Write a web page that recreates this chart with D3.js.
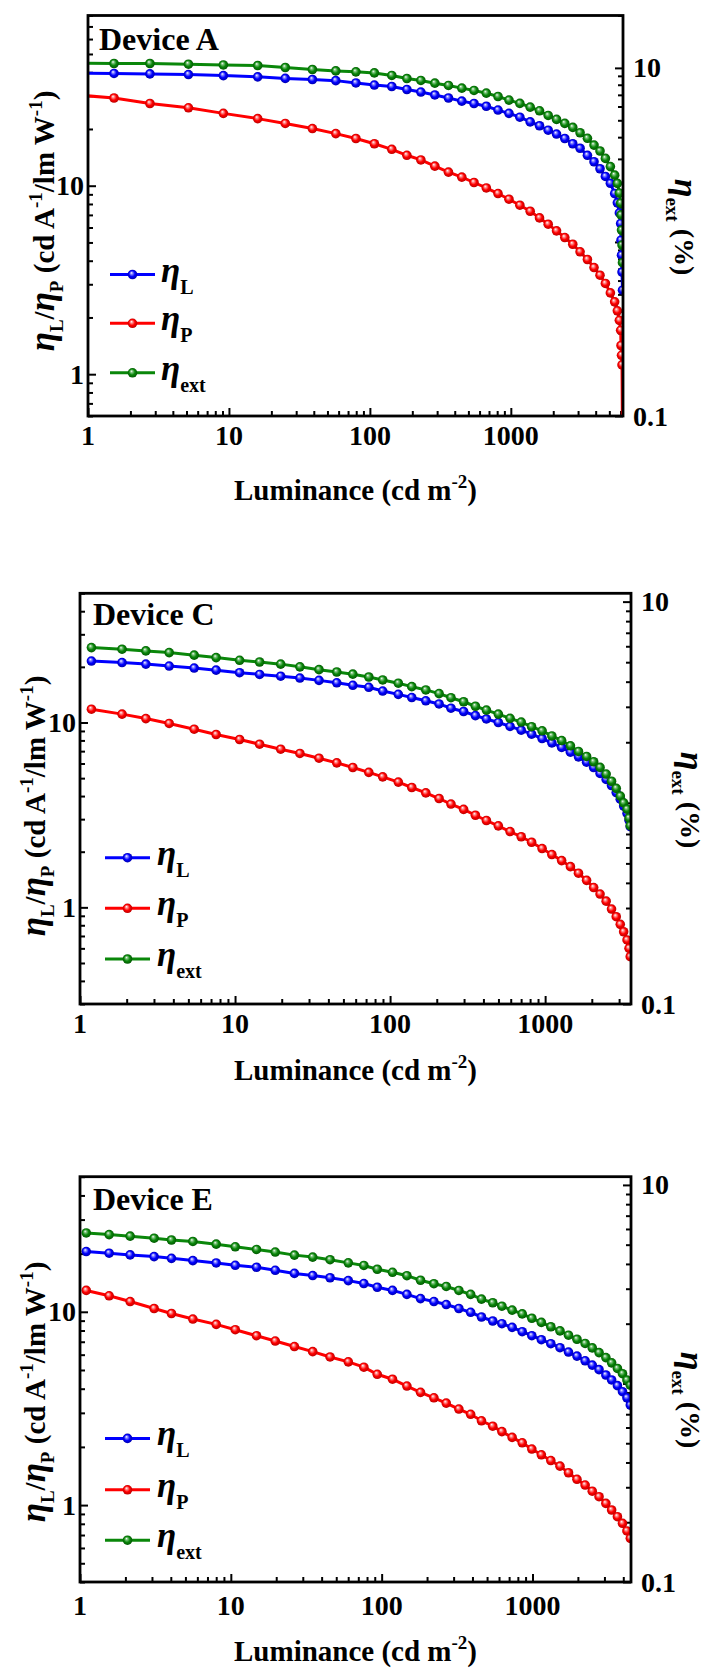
<!DOCTYPE html>
<html><head><meta charset="utf-8">
<script src="https://cdn.jsdelivr.net/npm/d3@7"></script>
<style>
html,body{margin:0;padding:0;background:#fff;}
svg text{font-family:"Liberation Serif","Times New Roman",serif;font-weight:bold;fill:#000;white-space:pre;}
</style></head><body>
<svg id="chart" width="718" height="1677"></svg>
<script>
// ---------------- data ----------------
const deviceLabels = ["Device A", "Device C", "Device E"];
const seriesNames = ["L", "P", "ext"];

const lumA = [0.75, 1.53, 2.75, 5.16, 9.13, 16.0, 25.1, 39.1, 57.3, 79.6, 107.6, 143, 183, 230, 289, 361, 449, 548, 670, 811, 970, 1159, 1372, 1598, 1841, 2110, 2415, 2751, 3100, 3495, 3893, 4293, 4688, 5085, 5454, 5700, 5890, 6015, 6050, 6100, 6150, 6200];
const etaL_A = [39.5, 39.4, 39.2, 38.9, 38.4, 37.8, 37.1, 36.6, 36.1, 35.1, 34.2, 33.6, 32.4, 31.4, 30.3, 29.2, 28.1, 27.3, 26.4, 25.2, 24.2, 23.1, 21.8, 20.8, 19.7, 18.8, 17.8, 16.7, 15.8, 14.5, 13.4, 12.3, 11.2, 10.3, 9.09, 8.11, 7.17, 6.30, 5.14, 4.28, 3.48, 2.79];
const etaP_A = [30.5, 29.2, 27.3, 25.9, 24.2, 22.7, 21.4, 20.1, 18.9, 17.8, 16.7, 15.6, 14.5, 13.7, 12.7, 11.8, 11.1, 10.4, 9.73, 9.09, 8.48, 7.88, 7.32, 6.75, 6.25, 5.76, 5.31, 4.89, 4.46, 4.06, 3.68, 3.35, 3.03, 2.70, 2.42, 2.17, 1.93, 1.71, 1.42, 1.26, 1.12, 0.45];
const etaExt_A = [10.65, 10.60, 10.60, 10.50, 10.40, 10.32, 10.05, 9.79, 9.61, 9.49, 9.36, 9.05, 8.69, 8.47, 8.17, 7.93, 7.65, 7.42, 7.16, 6.85, 6.53, 6.25, 5.95, 5.67, 5.33, 5.06, 4.80, 4.55, 4.24, 3.94, 3.60, 3.33, 3.02, 2.71, 2.42, 2.17, 1.91, 1.67, 1.43, 1.17, 0.96, 0.76];

const lumC = [1.185, 1.867, 2.66, 3.76, 5.45, 7.55, 10.7, 14.4, 19.7, 26.2, 34.8, 45.3, 57.5, 72.9, 89.6, 113, 138, 170, 207, 247, 298, 355, 418, 499, 594, 701, 818, 956, 1105, 1278, 1456, 1641, 1851, 2056, 2261, 2475, 2681, 2875, 3053, 3210, 3376, 3478, 3540];
const etaL_C = [21.5, 21.1, 20.7, 20.2, 19.7, 19.2, 18.6, 18.2, 17.8, 17.4, 16.9, 16.4, 15.9, 15.5, 14.8, 14.2, 13.65, 13.1, 12.6, 11.95, 11.47, 10.9, 10.45, 10.0, 9.52, 9.09, 8.65, 8.19, 7.76, 7.33, 6.91, 6.52, 6.10, 5.71, 5.30, 4.92, 4.56, 4.18, 3.85, 3.53, 3.22, 2.96, 2.73];
const etaP_C = [11.8, 11.1, 10.5, 9.88, 9.20, 8.61, 8.09, 7.63, 7.17, 6.80, 6.41, 6.05, 5.71, 5.37, 5.08, 4.76, 4.45, 4.16, 3.88, 3.62, 3.39, 3.15, 2.95, 2.76, 2.57, 2.41, 2.25, 2.08, 1.93, 1.79, 1.66, 1.53, 1.40, 1.28, 1.18, 1.08, 0.979, 0.890, 0.809, 0.738, 0.666, 0.600, 0.541];
const etaExt_C = [5.91, 5.80, 5.69, 5.58, 5.42, 5.27, 5.11, 5.01, 4.89, 4.74, 4.59, 4.47, 4.36, 4.22, 4.08, 3.93, 3.78, 3.64, 3.49, 3.33, 3.18, 3.02, 2.89, 2.76, 2.63, 2.52, 2.39, 2.28, 2.15, 2.04, 1.92, 1.80, 1.70, 1.60, 1.50, 1.39, 1.28, 1.18, 1.08, 1.00, 0.93, 0.84, 0.77];

const lumE = [1.10, 1.56, 2.15, 3.10, 4.04, 5.60, 8.0, 10.7, 14.8, 19.7, 26.4, 34.9, 45.5, 60.1, 76.2, 93.5, 118, 147, 181, 222, 268, 325, 389, 459, 545, 627, 733, 855, 990, 1145, 1323, 1522, 1733, 1972, 2234, 2491, 2763, 3066, 3348, 3658, 3953, 4228, 4453];
const etaL_E = [20.5, 20.1, 19.7, 19.3, 18.9, 18.4, 17.9, 17.4, 17.0, 16.4, 15.8, 15.4, 15.0, 14.5, 14.0, 13.4, 12.9, 12.3, 11.7, 11.3, 10.9, 10.4, 9.94, 9.40, 8.96, 8.68, 8.31, 7.89, 7.52, 7.17, 6.84, 6.52, 6.19, 5.90, 5.58, 5.30, 5.02, 4.71, 4.44, 4.15, 3.86, 3.59, 3.29];
const etaP_E = [12.9, 12.1, 11.3, 10.4, 9.80, 9.17, 8.61, 8.08, 7.52, 7.06, 6.61, 6.22, 5.84, 5.51, 5.17, 4.75, 4.48, 4.13, 3.83, 3.59, 3.37, 3.14, 2.95, 2.73, 2.56, 2.40, 2.24, 2.10, 1.95, 1.82, 1.70, 1.59, 1.47, 1.36, 1.27, 1.18, 1.105, 1.02, 0.943, 0.871, 0.805, 0.735, 0.673];
const etaExt_E = [5.73, 5.62, 5.52, 5.39, 5.28, 5.19, 5.03, 4.88, 4.73, 4.59, 4.43, 4.33, 4.20, 4.05, 3.93, 3.76, 3.63, 3.49, 3.31, 3.18, 3.08, 2.94, 2.81, 2.66, 2.55, 2.45, 2.34, 2.24, 2.13, 2.03, 1.93, 1.84, 1.75, 1.67, 1.59, 1.51, 1.43, 1.35, 1.27, 1.19, 1.12, 1.04, 0.98];

const xTickValues = [1, 10, 100, 1000];
const xTickLabels = ["1", "10", "100", "1000"];
const leftTickValues = [1, 10];
const leftTickLabels = ["1", "10"];
const rightTickValues = [0.1, 10];
const rightTickLabels = ["0.1", "10"];

// ---------------- layout ----------------
const panels = [
  {label: deviceLabels[0], lum: lumA, L: etaL_A, P: etaP_A, E: etaExt_A,
   left: 88, right: 623, top: 15.5, bottom: 416, xMax: 6250, yL: [0.6, 80], yR: [0.1, 20],
   devX: 99, devY: 50, legX0: 110, legX1: 155, legTX: 161, legY: [274.5, 323.3, 372.8],
   xLabY: 445, xTitleY: 500, lTitleX: 54, lTitleY: 221, rTitleX: 675, rTitleY: 227},
  {label: deviceLabels[1], lum: lumC, L: etaL_C, P: etaP_C, E: etaExt_C,
   left: 80, right: 631, top: 593.3, bottom: 1004, xMax: 3580, yL: [0.3, 50], yR: [0.1, 11],
   devX: 93, devY: 625, legX0: 105, legX1: 150, legTX: 157, legY: [857.7, 908.3, 959],
   xLabY: 1033, xTitleY: 1080, lTitleX: 45, lTitleY: 806, rTitleX: 681, rTitleY: 800},
  {label: deviceLabels[2], lum: lumE, L: etaL_E, P: etaP_E, E: etaExt_E,
   left: 80, right: 631, top: 1176.7, bottom: 1582, xMax: 4500, yL: [0.4, 50], yR: [0.1, 11],
   devX: 93, devY: 1210, legX0: 105, legX1: 150, legTX: 157, legY: [1438.4, 1489.8, 1540.2],
   xLabY: 1615, xTitleY: 1661, lTitleX: 45, lTitleY: 1392, rTitleX: 681, rTitleY: 1400}
];

const colors = {
  L: {line: "#0000ff", light: "#8a8aff", base: "#0000ff", dark: "#0000a0"},
  P: {line: "#ff0000", light: "#ff9090", base: "#ff0000", dark: "#b00000"},
  ext: {line: "#0a870a", light: "#7fc47f", base: "#0a870a", dark: "#005000"}
};

const svg = d3.select("#chart");
const defs = svg.append("defs");
Object.entries(colors).forEach(([k, c]) => {
  const g = defs.append("radialGradient").attr("id", "grad-" + k)
    .attr("cx", "50%").attr("cy", "50%").attr("r", "55%").attr("fx", "38%").attr("fy", "32%");
  g.append("stop").attr("offset", "0%").attr("stop-color", "#ffffff");
  g.append("stop").attr("offset", "22%").attr("stop-color", c.light);
  g.append("stop").attr("offset", "55%").attr("stop-color", c.base);
  g.append("stop").attr("offset", "100%").attr("stop-color", c.dark);
});

function isMajor(v) { const l = Math.log10(v); return Math.abs(l - Math.round(l)) < 1e-6; }

function richText(parent, x, y, segs, opts) {
  const t = parent.append("text").attr("x", x).attr("y", y)
    .attr("text-anchor", (opts && opts.anchor) || "start");
  if (opts && opts.transform) t.attr("transform", opts.transform);
  segs.forEach(s => {
    const ts = t.append("tspan").text(s.t).attr("font-size", s.size);
    if (s.it) ts.attr("font-style", "italic");
    if (s.dy) ts.attr("dy", s.dy);
  });
  return t;
}

panels.forEach((p, pi) => {
  const g = svg.append("g");
  const x = d3.scaleLog().domain([1, p.xMax]).range([p.left, p.right]);
  const yL = d3.scaleLog().domain(p.yL).range([p.bottom, p.top]);
  const yR = d3.scaleLog().domain(p.yR).range([p.bottom, p.top]);

  const clipId = "clip" + pi;
  defs.append("clipPath").attr("id", clipId).append("rect")
    .attr("x", p.left).attr("y", p.top).attr("width", p.right - p.left).attr("height", p.bottom - p.top);

  const styleAxis = (sel, horizontal, sign) => {
    sel.select(".domain").remove();
    sel.selectAll(".tick line").attr("stroke", "#000").attr("stroke-width", 2)
      .each(function(d) {
        const len = isMajor(d) ? 8 : 5;
        if (horizontal) d3.select(this).attr("y2", sign * len);
        else d3.select(this).attr("x2", sign * len);
      });
    sel.selectAll(".tick text").remove();
  };
  g.append("g").attr("transform", `translate(0,${p.bottom})`)
    .call(d3.axisBottom(x).tickValues(x.ticks()).tickSize(-5).tickFormat(""))
    .call(s => styleAxis(s, true, -1));
  g.append("g").attr("transform", `translate(${p.left},0)`)
    .call(d3.axisLeft(yL).tickValues(yL.ticks()).tickSize(-5).tickFormat(""))
    .call(s => styleAxis(s, false, 1));
  g.append("g").attr("transform", `translate(${p.right},0)`)
    .call(d3.axisRight(yR).tickValues(yR.ticks()).tickSize(-5).tickFormat(""))
    .call(s => styleAxis(s, false, -1));

  g.selectAll(".xl").data(xTickValues).enter().append("text")
    .attr("x", d => x(d)).attr("y", p.xLabY).attr("text-anchor", "middle")
    .attr("font-size", 28).text((d, i) => xTickLabels[i]);
  g.selectAll(".yl").data(leftTickValues).enter().append("text")
    .attr("x", p.left - 4).attr("y", d => yL(d) + 9.5).attr("text-anchor", "end")
    .attr("font-size", 28).text((d, i) => leftTickLabels[i]);
  g.selectAll(".yr").data(rightTickValues).enter().append("text")
    .attr("x", p.right + 10).attr("y", d => yR(d) + 9.5).attr("text-anchor", "start")
    .attr("font-size", 28).text((d, i) => rightTickLabels[i]);

  const plot = g.append("g").attr("clip-path", `url(#${clipId})`);
  const series = [
    {key: "L", vals: p.L, y: yL},
    {key: "P", vals: p.P, y: yL},
    {key: "ext", vals: p.E, y: yR}
  ];
  series.forEach(s => {
    const pts = p.lum.map((l, i) => [l, s.vals[i]]);
    plot.append("path").datum(pts)
      .attr("fill", "none").attr("stroke", colors[s.key].line).attr("stroke-width", 3)
      .attr("d", d3.line().x(d => x(d[0])).y(d => s.y(d[1])));
  });
  series.forEach(s => {
    const pts = p.lum.map((l, i) => [l, s.vals[i]]);
    plot.selectAll(null).data(pts).enter().append("circle")
      .attr("cx", d => x(d[0])).attr("cy", d => s.y(d[1])).attr("r", 4.8)
      .attr("fill", `url(#grad-${s.key})`);
  });

  g.append("rect").attr("x", p.left).attr("y", p.top)
    .attr("width", p.right - p.left).attr("height", p.bottom - p.top)
    .attr("fill", "none").attr("stroke", "#000").attr("stroke-width", 2.8);

  g.append("text").attr("x", p.devX).attr("y", p.devY).attr("font-size", 32).text(p.label);

  seriesNames.forEach((k, i) => {
    const ly = p.legY[i];
    g.append("line").attr("x1", p.legX0).attr("x2", p.legX1).attr("y1", ly).attr("y2", ly)
      .attr("stroke", colors[k].line).attr("stroke-width", 3);
    g.append("circle").attr("cx", (p.legX0 + p.legX1) / 2).attr("cy", ly).attr("r", 4.8)
      .attr("fill", `url(#grad-${k})`);
    richText(g, p.legTX, ly + 7, [
      {t: "η", it: true, size: 35},
      {t: k, size: 20, dy: 12}
    ]);
  });

  richText(g, (p.left + p.right) / 2, p.xTitleY, [
    {t: "Luminance (cd m", size: 29},
    {t: "-2", size: 19, dy: -12},
    {t: ")", size: 29, dy: 12}
  ], {anchor: "middle"});

  richText(g, 0, 0, [
    {t: "η", it: true, size: 35},
    {t: "L", size: 19, dy: 9},
    {t: "/", size: 29, dy: -9},
    {t: "η", it: true, size: 35},
    {t: "P", size: 19, dy: 9},
    {t: " (cd A", size: 29, dy: -9},
    {t: "-1", size: 19, dy: -12},
    {t: "/lm W", size: 29, dy: 12},
    {t: "-1", size: 19, dy: -12},
    {t: ")", size: 29, dy: 12}
  ], {anchor: "middle", transform: `translate(${p.lTitleX},${p.lTitleY}) rotate(-90)`});

  richText(g, 0, 0, [
    {t: "η", it: true, size: 34},
    {t: "ext", size: 19, dy: 9},
    {t: " (%)", size: 28, dy: -9}
  ], {anchor: "middle", transform: `translate(${p.rTitleX},${p.rTitleY}) rotate(90)`});
});
</script>
</body></html>
